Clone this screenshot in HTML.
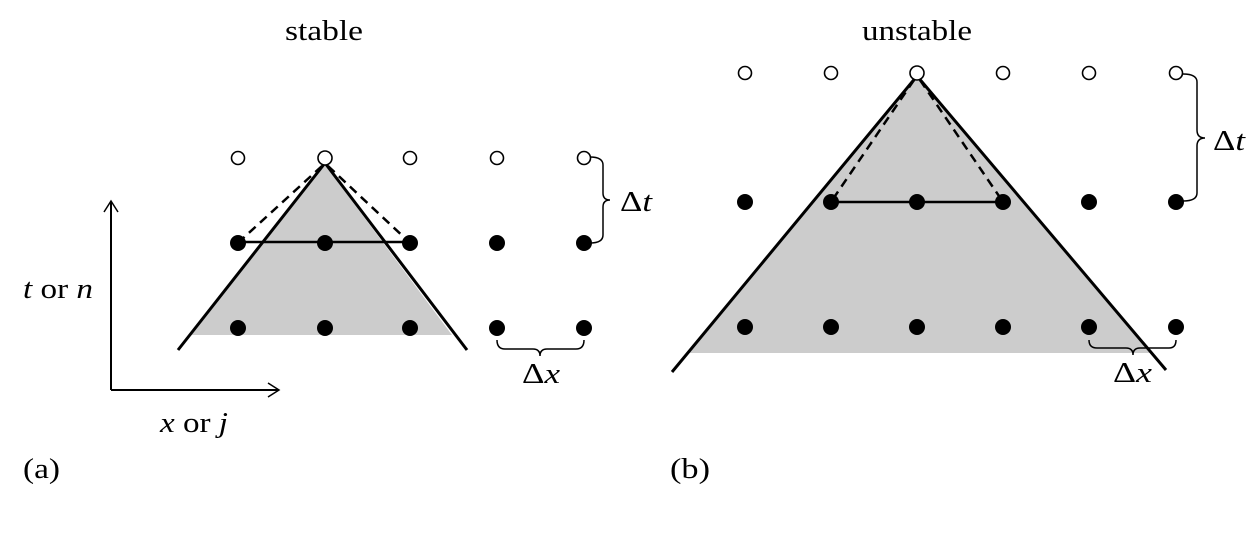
<!DOCTYPE html>
<html><head><style>body{margin:0;background:#fff}</style></head><body>
<svg width="1255" height="543" viewBox="0 0 1255 543" xmlns="http://www.w3.org/2000/svg" font-family="Liberation Serif, serif" font-size="28">
<rect width="1255" height="543" fill="#fff"/>
<!-- (a) -->
<polygon points="325,165 452,335 190,335" fill="#cccccc"/>
<line x1="325" y1="163" x2="178" y2="350" stroke="#000" stroke-width="3"/>
<line x1="325" y1="163" x2="467" y2="350" stroke="#000" stroke-width="3"/>
<line x1="322" y1="166" x2="240" y2="241" stroke="#000" stroke-width="2.5" stroke-dasharray="9,6"/>
<line x1="328" y1="166" x2="408" y2="241" stroke="#000" stroke-width="2.5" stroke-dasharray="9,6"/>
<line x1="238" y1="242" x2="410" y2="242" stroke="#000" stroke-width="2.5"/>
<g fill="#fff" stroke="#000" stroke-width="1.6">
<circle cx="238" cy="158" r="6.5"/><circle cx="325" cy="158" r="7"/><circle cx="410" cy="158" r="6.5"/><circle cx="497" cy="158" r="6.5"/><circle cx="584" cy="158" r="6.5"/>
</g>
<g fill="#000">
<circle cx="238" cy="243" r="8"/><circle cx="325" cy="243" r="8"/><circle cx="410" cy="243" r="8"/><circle cx="497" cy="243" r="8"/><circle cx="584" cy="243" r="8"/>
<circle cx="238" cy="328" r="8"/><circle cx="325" cy="328" r="8"/><circle cx="410" cy="328" r="8"/><circle cx="497" cy="328" r="8"/><circle cx="584" cy="328" r="8"/>
</g>
<path d="M590,157 Q603,157 603,165 L603,193 Q603,200 610,200 Q603,200 603,207 L603,235 Q603,243 590,243" fill="none" stroke="#000" stroke-width="1.5"/>
<text x="620" y="211" textLength="32" lengthAdjust="spacingAndGlyphs">Δ<tspan font-style="italic">t</tspan></text>
<path d="M497,340 Q497,349 505,349 L533,349 Q540,349 540,356 Q540,349 547,349 L576,349 Q584,349 584,340" fill="none" stroke="#000" stroke-width="1.5"/>
<text x="522" y="383" textLength="38" lengthAdjust="spacingAndGlyphs">Δ<tspan font-style="italic">x</tspan></text>
<line x1="111" y1="390" x2="111" y2="202" stroke="#000" stroke-width="2"/>
<polyline points="104,212 111,201 118,212" fill="none" stroke="#000" stroke-width="1.5"/>
<line x1="111" y1="390" x2="278" y2="390" stroke="#000" stroke-width="2"/>
<polyline points="268,383 279,390 268,397" fill="none" stroke="#000" stroke-width="1.5"/>
<text x="23" y="298" textLength="70" lengthAdjust="spacingAndGlyphs"><tspan font-style="italic">t</tspan> or <tspan font-style="italic">n</tspan></text>
<text x="160" y="432" textLength="68" lengthAdjust="spacingAndGlyphs"><tspan font-style="italic">x</tspan> or <tspan font-style="italic">j</tspan></text>
<text x="23" y="478" textLength="37" lengthAdjust="spacingAndGlyphs">(a)</text>
<text x="285" y="40" textLength="78" lengthAdjust="spacingAndGlyphs">stable</text>
<!-- (b) -->
<polygon points="917,78 1150,353 687,353" fill="#cccccc"/>
<line x1="917" y1="76" x2="672" y2="372" stroke="#000" stroke-width="3"/>
<line x1="917" y1="76" x2="1166" y2="370" stroke="#000" stroke-width="3"/>
<line x1="914" y1="80" x2="833" y2="199" stroke="#000" stroke-width="2.5" stroke-dasharray="9,6"/>
<line x1="920" y1="80" x2="1001" y2="199" stroke="#000" stroke-width="2.5" stroke-dasharray="9,6"/>
<line x1="831" y1="202" x2="1003" y2="202" stroke="#000" stroke-width="2.5"/>
<g fill="#fff" stroke="#000" stroke-width="1.6">
<circle cx="745" cy="73" r="6.5"/><circle cx="831" cy="73" r="6.5"/><circle cx="917" cy="73" r="7"/><circle cx="1003" cy="73" r="6.5"/><circle cx="1089" cy="73" r="6.5"/><circle cx="1176" cy="73" r="6.5"/>
</g>
<g fill="#000">
<circle cx="745" cy="202" r="8"/><circle cx="831" cy="202" r="8"/><circle cx="917" cy="202" r="8"/><circle cx="1003" cy="202" r="8"/><circle cx="1089" cy="202" r="8"/><circle cx="1176" cy="202" r="8"/>
<circle cx="745" cy="327" r="8"/><circle cx="831" cy="327" r="8"/><circle cx="917" cy="327" r="8"/><circle cx="1003" cy="327" r="8"/><circle cx="1089" cy="327" r="8"/><circle cx="1176" cy="327" r="8"/>
</g>
<path d="M1183,74 Q1197,74 1197,82 L1197,130 Q1197,138 1205,138 Q1197,138 1197,146 L1197,193 Q1197,201 1183,201" fill="none" stroke="#000" stroke-width="1.5"/>
<text x="1213" y="150" textLength="32" lengthAdjust="spacingAndGlyphs">Δ<tspan font-style="italic">t</tspan></text>
<path d="M1089,340 Q1089,348 1097,348 L1126,348 Q1133,348 1133,355 Q1133,348 1140,348 L1169,348 Q1176,348 1176,340" fill="none" stroke="#000" stroke-width="1.5"/>
<text x="1113" y="382" textLength="39" lengthAdjust="spacingAndGlyphs">Δ<tspan font-style="italic">x</tspan></text>
<text x="670" y="478" textLength="40" lengthAdjust="spacingAndGlyphs">(b)</text>
<text x="862" y="40" textLength="110" lengthAdjust="spacingAndGlyphs">unstable</text>
</svg>
</body></html>
